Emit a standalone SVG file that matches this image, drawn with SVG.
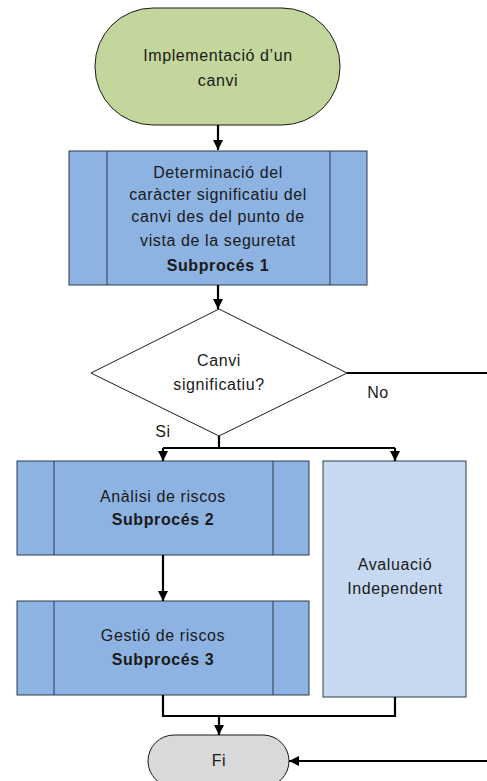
<svg xmlns="http://www.w3.org/2000/svg" width="487" height="781" viewBox="0 0 487 781">
<defs>
<marker id="ah" viewBox="0 0 10 10" refX="10" refY="5" markerWidth="10" markerHeight="10" markerUnits="userSpaceOnUse" orient="auto">
<path d="M0,0 L10,5 L0,10 Z" fill="#000"/>
</marker>
</defs>
<style>
text{font-family:"Liberation Sans",Arial,sans-serif;font-size:16px;letter-spacing:0.6px;fill:#1a1a1a;text-anchor:middle}
.b{font-weight:bold}
.sub{fill:#8db3e2;stroke:#2e3b4a;stroke-width:1}
.edge{fill:none;stroke:#000;stroke-width:2.2}
</style>
<rect width="487" height="781" fill="#fff"/>
<g id="start">
<rect x="95" y="8" width="245" height="117" rx="58" ry="58" fill="#c3d69b" stroke="#1a1a1a" stroke-width="1"/>
<text x="218" y="61">Implementació d’un</text>
<text x="218" y="86">canvi</text>
</g>
<g id="sub1">
<rect class="sub" x="69" y="151" width="298" height="134"/>
<line x1="107" y1="151" x2="107" y2="285" stroke="#2e3b4a"/>
<line x1="330" y1="151" x2="330" y2="285" stroke="#2e3b4a"/>
<text x="218" y="178">Determinació del</text>
<text x="218" y="200">caràcter significatiu del</text>
<text x="218" y="222">canvi des del punto de</text>
<text x="218" y="246">vista de la seguretat</text>
<text class="b" x="218" y="271">Subprocés 1</text>
</g>
<g id="decision">
<polygon points="219,309 347,373 219,436 91,373" fill="#fff" stroke="#1a1a1a" stroke-width="1"/>
<text x="219" y="366">Canvi</text>
<text x="219" y="390">significatiu?</text>
</g>
<g id="sub2">
<rect class="sub" x="17" y="461" width="292" height="94"/>
<line x1="54" y1="461" x2="54" y2="555" stroke="#2e3b4a"/>
<line x1="273" y1="461" x2="273" y2="555" stroke="#2e3b4a"/>
<text x="163" y="502">Anàlisi de riscos</text>
<text class="b" x="163" y="525">Subprocés 2</text>
</g>
<g id="avaluacio">
<rect x="323" y="461" width="143" height="236" fill="#c6d9f1" stroke="#2e3b4a" stroke-width="1"/>
<text x="395" y="570">Avaluació</text>
<text x="395" y="594">Independent</text>
</g>
<g id="sub3">
<rect class="sub" x="17" y="601" width="292" height="94"/>
<line x1="54" y1="601" x2="54" y2="695" stroke="#2e3b4a"/>
<line x1="273" y1="601" x2="273" y2="695" stroke="#2e3b4a"/>
<text x="163" y="641">Gestió de riscos</text>
<text class="b" x="163" y="665">Subprocés 3</text>
</g>
<g id="fi">
<rect x="148" y="735" width="141" height="52" rx="26" ry="26" fill="#d9d9d9" stroke="#1a1a1a" stroke-width="1"/>
<text x="219" y="766">Fi</text>
</g>
<g id="connectors">
<line class="edge" x1="218" y1="125" x2="218" y2="150" marker-end="url(#ah)"/>
<line class="edge" x1="218" y1="285" x2="218" y2="309" marker-end="url(#ah)"/>
<polyline class="edge" points="219,436 219,448"/>
<polyline class="edge" points="163,448 395,448"/>
<line class="edge" x1="163" y1="448" x2="163" y2="461" marker-end="url(#ah)"/>
<line class="edge" x1="395" y1="448" x2="395" y2="461" marker-end="url(#ah)"/>
<line class="edge" x1="163" y1="555" x2="163" y2="601" marker-end="url(#ah)"/>
<polyline class="edge" points="163,695 163,716 395,716 395,697"/>
<line class="edge" x1="219" y1="716" x2="219" y2="735" marker-end="url(#ah)"/>
<line class="edge" x1="347" y1="373" x2="487" y2="373"/>
<line class="edge" x1="487" y1="761" x2="289" y2="761" marker-end="url(#ah)"/>
<text x="378" y="398">No</text>
<text x="163" y="437">Si</text>
</g>
</svg>
